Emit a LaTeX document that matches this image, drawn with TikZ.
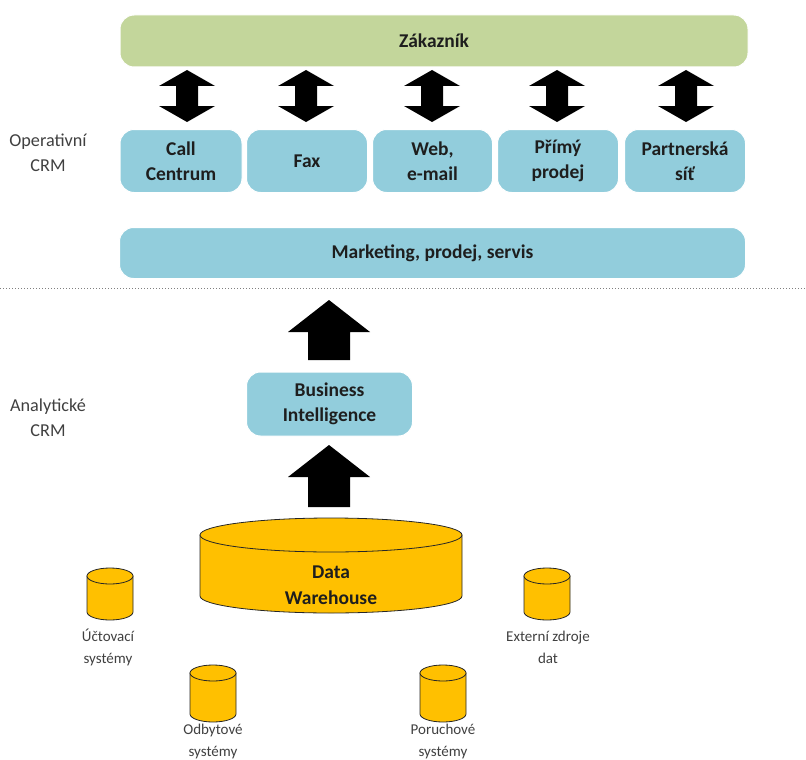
\documentclass[tikz,border=0pt]{standalone}
\usepackage{fontspec}
\setmainfont{Carlito}
\usetikzlibrary{calc}
\definecolor{zgreen}{HTML}{C3D69B}
\definecolor{zblue}{HTML}{92CDDC}
\definecolor{zgold}{HTML}{FFC000}
\definecolor{ztext}{HTML}{1E1E1E}
\definecolor{zgray}{HTML}{404040}
\tikzset{
  box/.style={rounded corners=14pt, draw=white, line width=1pt, align=center, inner sep=0pt, text=ztext, font=\fontsize{19.5}{25}\selectfont\bfseries},
  side/.style={align=center, text=zgray, font=\fontsize{18.2}{25}\selectfont},
  small/.style={align=center, text=zgray, font=\fontsize{15}{22}\selectfont},
  cyl/.style={fill=zgold, draw=black!85, line width=0.8pt}
}
\newcommand{\dblarrow}[3]{% cx, top, bottom
  \fill[black] (#1,#2) -- (#1+28,#2+16) -- (#1+11,#2+16) -- (#1+11,#3-16) -- (#1+28,#3-16) -- (#1,#3) -- (#1-28,#3-16) -- (#1-11,#3-16) -- (#1-11,#2+16) -- (#1-28,#2+16) -- cycle;}
\newcommand{\uparrowblk}[3]{% cx, top, bottom
  \fill[black] (#1,#2) -- (#1+41,#2+32) -- (#1+21,#2+32) -- (#1+21,#3) -- (#1-21,#3) -- (#1-21,#2+32) -- (#1-41,#2+32) -- cycle;}
\newcommand{\dbcyl}[5]{% cx, ytop, ybottom, rx, ry
  \filldraw[cyl] (#1-#4,#2) -- (#1-#4,#3) arc[start angle=180, end angle=0, x radius=#4, y radius=#5] -- (#1+#4,#2) -- cycle;
  \filldraw[cyl] (#1,#2) ellipse[x radius=#4, y radius=#5];}
\begin{document}
\begin{tikzpicture}[x=1pt,y=-1pt]
\useasboundingbox (0,0) rectangle (806,760);
% customer
\node[box, fill=zgreen, minimum width=628pt, minimum height=52pt] (zak) at (434,41) {Zákazník};
% channels
\node[box, fill=zblue, minimum width=122pt, minimum height=63pt] (call) at (181,161) {Call\\Centrum};
\node[box, fill=zblue, minimum width=121pt, minimum height=63pt] (fax) at (307,161) {Fax};
\node[box, fill=zblue, minimum width=120pt, minimum height=63pt] (web) at (432.5,161) {Web,\\e-mail};
\node[box, fill=zblue, minimum width=121pt, minimum height=63pt] (primy) at (558,161) {Přímý\\prodej};
\node[box, fill=zblue, minimum width=121pt, minimum height=63pt] (partner) at (685,161) {Partnerská\\síť};
% double arrows
\dblarrow{187}{70}{122}
\dblarrow{306}{70}{122}
\dblarrow{432}{70}{122}
\dblarrow{557}{70}{122}
\dblarrow{686}{70}{122}
% marketing
\node[box, fill=zblue, minimum width=626pt, minimum height=51pt] (mkt) at (432.5,253) {Marketing, prodej, servis};
% divider
\draw[gray, dotted, line width=1pt] (0,288) coordinate (dl) -- (806,288) coordinate (dr);
% side labels
\node[side] (oper) at (48,153) {Operativní\\CRM};
\node[side] (anal) at (48,418) {Analytické\\CRM};
% BI
\uparrowblk{329}{300}{360}
\node[box, fill=zblue, minimum width=166pt, minimum height=64pt] (bi) at (329.5,404) {Business\\Intelligence};
\uparrowblk{329}{445}{507}
% data warehouse
\dbcyl{331}{535}{596}{131}{17}
\node[box, draw=none, font=\fontsize{19.5}{26}\selectfont\bfseries] (dw) at (331,585) {Data\\Warehouse};
% small sources
\dbcyl{110}{576}{612}{23}{8}
\node[small] (ucto) at (108,647) {Účtovací\\systémy};
\dbcyl{213}{673}{714}{23}{8}
\node[small] (odby) at (213,741) {Odbytové\\systémy};
\dbcyl{443}{673}{714}{23}{8}
\node[small] (poru) at (443,741) {Poruchové\\systémy};
\dbcyl{547}{576}{612}{23}{8}
\node[small] (ext) at (548,647) {Externí zdroje\\dat};
\end{tikzpicture}
\end{document}
